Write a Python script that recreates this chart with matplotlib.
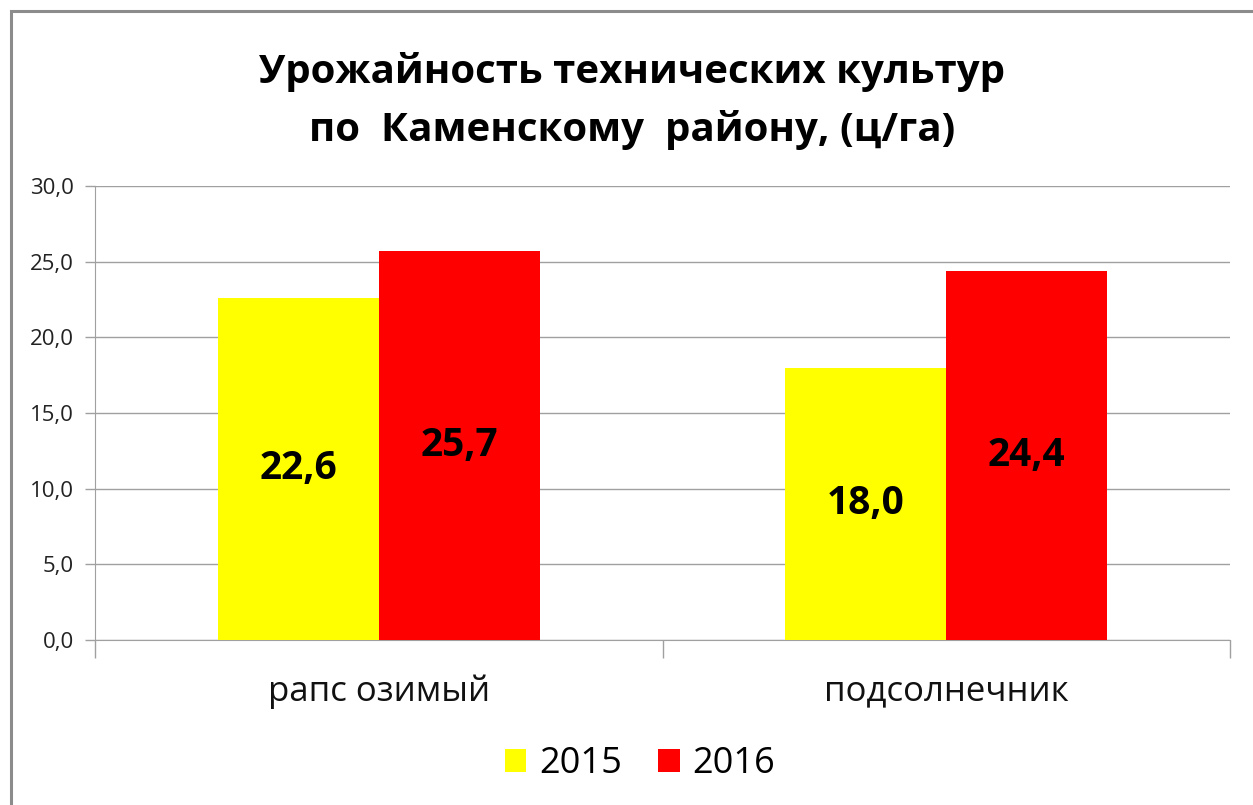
import matplotlib
matplotlib.use("Agg")
import matplotlib.pyplot as plt
from matplotlib.ticker import FuncFormatter, FixedLocator, NullFormatter
from matplotlib.patches import Rectangle, Patch
import numpy as np

plt.rcParams['font.family'] = ['Open Sans', 'DejaVu Sans']

categories = ["рапс озимый", "подсолнечник"]
series_names = ["2015", "2016"]
values_2015 = [22.6, 18.0]
values_2016 = [25.7, 24.4]
colors = ["#FFFF00", "#FF0000"]
title = "Урожайность технических культур\nпо  Каменскому  району, (ц/га)"

fig = plt.figure(figsize=(12.53, 8.05), dpi=100)
fig.patch.set_facecolor("white")

# outer frame
fig.patches.append(Rectangle((11/1253, -0.05), 1.2, 1 - 11/805 + 0.05,
                             transform=fig.transFigure, fill=False,
                             edgecolor="#8c8c8c", linewidth=2.2, zorder=0))

ax = fig.add_axes([95/1253, 1 - 640/805, (1230 - 95)/1253, (640 - 186)/805])
x = np.arange(len(categories))
w = 0.284
b1 = ax.bar(x - w/2, values_2015, width=w, color=colors[0], label=series_names[0], zorder=3)
b2 = ax.bar(x + w/2, values_2016, width=w, color=colors[1], label=series_names[1], zorder=3)

fmt = lambda v: f"{v:.1f}".replace(".", ",")
for bars in (b1, b2):
    for r in bars:
        h = r.get_height()
        ax.text(r.get_x() + r.get_width()/2, h/2, fmt(h), ha="center", va="center",
                fontsize=28, fontweight="bold", color="black", zorder=4)

ax.set_xlim(-0.5, len(categories) - 0.5)
ax.set_ylim(0, 30)
ax.set_yticks(np.arange(0, 30.1, 5))
ax.yaxis.set_major_formatter(FuncFormatter(lambda v, p: fmt(v)))
ax.tick_params(axis="y", labelsize=16, length=7, width=1, color="#a0a0a0", pad=8, labelcolor="#222222")

ax.xaxis.set_major_locator(FixedLocator([-0.5, 0.5, 1.5]))
ax.xaxis.set_major_formatter(NullFormatter())
ax.xaxis.set_minor_locator(FixedLocator(list(x)))
ax.set_xticklabels(categories, minor=True)
ax.tick_params(axis="x", which="major", length=13, width=1, color="#a0a0a0")
ax.tick_params(axis="x", which="minor", length=0, labelsize=25, pad=25, labelcolor="#111111")

ax.grid(axis="y", color="#a0a0a0", linewidth=1, zorder=0)
for s in ["top", "right"]:
    ax.spines[s].set_visible(False)
ax.spines["left"].set_color("#a0a0a0")
ax.spines["bottom"].set_color("#a0a0a0")
ax.set_axisbelow(True)

fig.text(632/1253, 1 - 101/805, title, ha="center", va="center", fontsize=29,
         fontweight="bold", linespacing=1.6)

handles = [Patch(facecolor=c, edgecolor="none") for c in colors]
fig.legend(handles, series_names, loc="center", bbox_to_anchor=(640/1253, 1 - 764/805),
           ncol=2, frameon=False, fontsize=26, handlelength=0.6, handleheight=0.6,
           handletextpad=0.35, columnspacing=1.0)

fig.savefig("out.png", dpi=100, facecolor="white")
